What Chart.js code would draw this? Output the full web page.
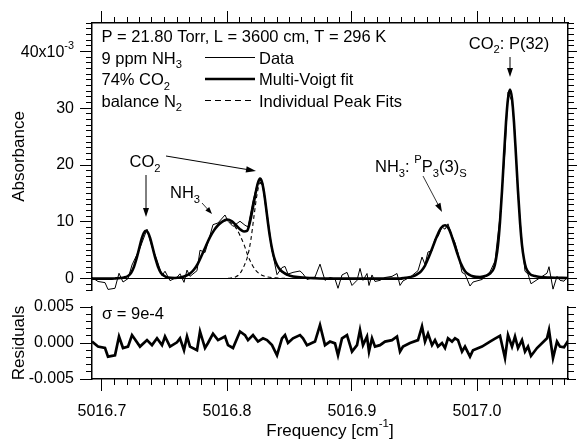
<!DOCTYPE html>
<html><head><meta charset="utf-8">
<script src="https://cdn.jsdelivr.net/npm/chart.js@4"></script>
<style>
html,body{margin:0;padding:0;background:#fff;}
#wrap{position:relative;width:578px;height:441px;overflow:hidden;background:#fff;}
#c1{position:absolute;left:0;top:0;}
#c2{position:absolute;left:0;top:298px;}
</style></head><body>
<div id="wrap">
<canvas id="c1" width="578" height="292"></canvas>
<canvas id="c2" width="578" height="143"></canvas>
</div>
<script>
// ---------- data (absorbance in units of 1e-3, residuals in absorbance) ----------
const freqData = [
5016.6920,5016.6968,5016.7024,5016.7048,5016.7104,5016.7136,5016.7168,5016.7208,5016.7240,5016.7304,
5016.7360,5016.7400,5016.7440,5016.7480,5016.7504,5016.7544,5016.7600,5016.7624,5016.7656,5016.7680,
5016.7704,5016.7760,5016.7784,5016.7824,5016.7848,5016.7888,5016.7928,5016.7984,5016.8008,5016.8048,
5016.8104,5016.8144,5016.8168,5016.8208,5016.8248,5016.8288,5016.8320,5016.8360,5016.8400,5016.8440,
5016.8464,5016.8488,5016.8528,5016.8584,5016.8608,5016.8640,5016.8704,5016.8744,5016.8784,5016.8824,
5016.8864,5016.8888,5016.8920,5016.8960,5016.9000,5016.9040,5016.9064,5016.9088,5016.9120,5016.9136,
5016.9160,5016.9184,5016.9224,5016.9264,5016.9320,5016.9360,5016.9384,5016.9408,5016.9464,5016.9528,
5016.9560,5016.9584,5016.9608,5016.9640,5016.9664,5016.9688,5016.9720,5016.9744,5016.9768,5016.9800,
5016.9824,5016.9848,5016.9880,5016.9904,5016.9944,5016.9968,5017.0040,5017.0104,5017.0144,5017.0184,
5017.0224,5017.0248,5017.0280,5017.0304,5017.0328,5017.0360,5017.0384,5017.0408,5017.0432,5017.0480,
5017.0560,5017.0576,5017.0608,5017.0640,5017.0664,5017.0696,5017.0728];
const absData = [
0.2,-0.5,-0.7,-1.9,-1.7,0.95,-0.6,0.0,2.4,5.4,
8.7,5.6,3.25,0.55,1.3,-0.35,0.25,0.85,-0.65,1.5,
0.4,1.4,5.0,4.6,6.4,9.5,9.8,11.2,10.1,9.2,
10.1,9.4,9.1,13.7,17.1,16.75,11.6,5.0,0.7,1.95,
2.15,0.8,1.1,1.35,0.85,-0.15,0.28,2.55,-0.3,0.2,
-0.05,-1.7,0.65,1.1,-1.2,-0.3,1.8,-0.3,0.9,-1.2,
0.65,-0.5,-0.3,0.2,0.4,0.9,-1.2,-0.4,0.25,1.4,
3.8,2.5,4.7,4.9,7.0,7.4,9.1,8.7,9.65,7.5,
6.35,4.5,1.1,0.8,-1.3,-0.6,-0.15,1.2,3.1,11.0,
22.5,32.8,31.2,25.5,14.7,6.3,1.3,0.8,-0.9,-0.2,
0.95,2.1,-1.85,0.4,-0.3,-0.45,0.45];
const residuals = [
0.0002,-0.0005,-0.0007,-0.0019,-0.0017,0.0009,-0.0007,-0.0005,0.0011,-0.0005,
0.0004,-0.0003,0.00065,-0.0003,0.0009,-0.0005,0.0001,0.00065,-0.001,0.0009,
-0.0005,-0.001,0.0016,-0.0007,0.0,0.0013,0.0004,0.0009,-0.0003,-0.0007,
0.0016,0.0011,0.0004,0.0011,0.0002,0.00065,0.0004,-0.0003,-0.0017,0.00065,
0.0011,0.0,0.00065,0.0011,0.00065,-0.0003,0.0002,0.0025,-0.0003,0.0002,
-0.00005,-0.0017,0.00065,0.0011,-0.0012,-0.0003,0.0018,-0.0003,0.0009,-0.0012,
0.00065,-0.0005,-0.0003,0.0002,0.0004,0.0009,-0.0012,-0.0005,0.0,0.0004,
0.0023,0.0002,0.0013,-0.0003,0.0004,-0.0005,0.0,-0.0007,0.00065,0.0002,
0.00065,0.0004,-0.0012,-0.0005,-0.0019,-0.001,-0.0005,0.0002,0.0006,0.001,
-0.0021,0.0011,-0.0005,0.0009,-0.0007,0.0004,-0.0012,-0.0005,-0.0018,-0.0007,
0.00065,0.0018,-0.0021,0.0002,-0.0005,-0.0006,0.0003];
const fitFreq = [
5016.6920,5016.7064,5016.7112,5016.7144,5016.7176,5016.7208,5016.7232,5016.7256,5016.7272,5016.7288,
5016.7304,5016.7320,5016.7336,5016.7352,5016.7368,5016.7384,5016.7400,5016.7416,5016.7432,5016.7448,
5016.7472,5016.7496,5016.7528,5016.7584,5016.7624,5016.7672,5016.7704,5016.7736,5016.7768,5016.7800,
5016.7832,5016.7864,5016.7896,5016.7928,5016.7960,5016.8000,5016.8040,5016.8072,5016.8104,5016.8136,
5016.8160,5016.8184,5016.8208,5016.8232,5016.8248,5016.8264,5016.8280,5016.8296,5016.8312,5016.8328,
5016.8344,5016.8360,5016.8376,5016.8400,5016.8424,5016.8456,5016.8504,5016.8584,5016.8704,5016.8824,
5016.9384,5016.9424,5016.9488,5016.9520,5016.9552,5016.9584,5016.9616,5016.9648,5016.9680,5016.9712,
5016.9744,5016.9776,5016.9808,5016.9840,5016.9872,5016.9904,5016.9936,5016.9968,5017.0024,5017.0072,
5017.0104,5017.0136,5017.0152,5017.0168,5017.0184,5017.0200,5017.0216,5017.0232,5017.0248,5017.0264,
5017.0280,5017.0296,5017.0312,5017.0328,5017.0344,5017.0360,5017.0376,5017.0392,5017.0424,5017.0464,
5017.0504,5017.0584,5017.0728];
const fitAbs = [
0,0,0.05,0.1,0.2,0.47,1.0,2.1,3.2,4.5,
5.9,7.2,8.1,8.4,8.1,7.2,5.9,4.5,3.2,2.1,
1.0,0.5,0.2,0.12,0.2,0.5,0.9,1.6,2.7,4.2,
5.8,7.3,8.5,9.4,10.0,10.4,10.1,9.4,8.7,8.3,
8.4,10.0,12.6,15.4,16.9,17.6,17.0,15.2,12.6,9.8,
7.3,5.3,3.8,2.4,1.6,1.0,0.5,0.25,0.08,0,
0,0.15,0.4,0.75,1.3,2.3,3.9,5.7,7.5,8.9,
9.4,8.7,6.8,4.6,2.6,1.3,0.7,0.4,0.3,0.5,
0.9,1.9,3.4,5.9,10.0,15.4,21.6,27.5,31.7,33.3,
31.7,27.5,21.6,15.4,10.0,5.9,3.4,1.9,0.8,0.45,
0.3,0.2,0.12];
const peakBFreq = [5016.7592,5016.7624,5016.7672,5016.7704,5016.7736,5016.7768,5016.7800,5016.7832,5016.7864,5016.7896,
5016.7928,5016.7960,5016.8000,5016.8040,5016.8072,5016.8104,5016.8136,5016.8168,5016.8200,5016.8232,
5016.8264,5016.8296,5016.8328,5016.8384,5016.8464];
const peakBAbs = [0.1,0.2,0.5,0.9,1.6,2.7,4.2,5.8,7.3,8.5,
9.4,10.0,10.2,9.7,8.9,7.6,6.0,4.0,2.5,1.4,
0.8,0.45,0.28,0.15,0.05];
const peakCFreq = [5016.8008,5016.8040,5016.8072,5016.8104,5016.8136,5016.8168,5016.8192,5016.8216,5016.8240,5016.8264,
5016.8288,5016.8312,5016.8328,5016.8344,5016.8360,5016.8376,5016.8400,5016.8424,5016.8456,5016.8504,
5016.8584,5016.8704];
const peakCAbs = [0.05,0.15,0.35,0.9,2.2,4.2,7.0,11.0,14.8,16.8,
15.9,12.2,9.5,7.0,5.0,3.6,2.3,1.5,0.9,0.45,
0.2,0.05];

// ---------- ticks ----------
const freqMajor = [5016.7,5016.8,5016.9,5017.0];
const freqMinor = [5016.70,5016.71,5016.72,5016.73,5016.74,5016.75,5016.76,5016.77,5016.78,5016.79,
5016.80,5016.81,5016.82,5016.83,5016.84,5016.85,5016.86,5016.87,5016.88,5016.89,
5016.90,5016.91,5016.92,5016.93,5016.94,5016.95,5016.96,5016.97,5016.98,5016.99,
5017.00,5017.01,5017.02,5017.03,5017.04,5017.05,5017.06,5017.07];
const absMajor = [0,10,20,30,40];
const absMinor = [-2,-1,0,1,2,3,4,5,6,7,8,9,10,11,12,13,14,15,16,17,18,19,20,21,22,23,24,25,26,27,28,29,30,31,32,33,34,35,36,37,38,39,40,41,42,43,44,45];
const resMajor = [-0.005,0,0.005];
const resMinor = [-0.005,-0.004,-0.003,-0.002,-0.001,0,0.001,0.002,0.003,0.004,0.005];

const X_MIN = 5016.692, X_MAX = 5017.0728;
const FONT = "'Liberation Sans', Arial, Helvetica, sans-serif";
Chart.defaults.font.family = FONT;
Chart.defaults.color = '#000';

const xy = (xs, ys) => xs.map((x, i) => ({x, y: ys[i]}));

function mkAxis(axis, position, min, max, tickVals, tickLen, size, weight, opts) {
  const horiz = axis === 'x';
  return Object.assign({
    type: 'linear', axis, position, min, max, weight, offset: false,
    afterBuildTicks: s => { s.ticks = tickVals.map(v => ({value: v})); },
    afterFit: s => {
      if (horiz) s.height = size; else s.width = size;
      s.paddingTop = 0; s.paddingBottom = 0; s.paddingLeft = 0; s.paddingRight = 0;
    },
    ticks: {display: false},
    grid: {drawOnChartArea: false, drawTicks: true, tickLength: tickLen, color: '#000', tickColor: '#000', tickWidth: 1},
    border: {display: false}
  }, opts || {});
}
const BORDER = {display: true, color: '#000', width: 1.5};

function rich(ctx, x, y, parts, size, align) {
  const small = size * 0.68;
  const widths = parts.map(p => { ctx.font = (p[1] ? small : size) + 'px ' + FONT; return ctx.measureText(p[0]).width; });
  const total = widths.reduce((a, b) => a + b, 0);
  let cx = align === 'right' ? x - total : align === 'center' ? x - total / 2 : x;
  ctx.textAlign = 'left'; ctx.textBaseline = 'alphabetic';
  parts.forEach((p, i) => {
    ctx.font = (p[1] ? small : size) + 'px ' + FONT;
    const dy = p[1] === 'sub' ? size * 0.28 : p[1] === 'sup' ? -size * 0.52 : 0;
    ctx.fillText(p[0], cx, y + dy);
    cx += widths[i];
  });
}
function arrow(ctx, x1, y1, x2, y2, lw, hl, hw) {
  const a = Math.atan2(y2 - y1, x2 - x1), c = Math.cos(a), s = Math.sin(a);
  ctx.lineWidth = lw;
  ctx.beginPath(); ctx.moveTo(x1, y1); ctx.lineTo(x2 - c * hl * 0.7, y2 - s * hl * 0.7); ctx.stroke();
  ctx.beginPath(); ctx.moveTo(x2, y2);
  ctx.lineTo(x2 - hl * c + hw * s, y2 - hl * s - hw * c);
  ctx.lineTo(x2 - hl * c - hw * s, y2 - hl * s + hw * c);
  ctx.closePath(); ctx.fill();
}

const TS = 16.5; // annotation font size
const annot1 = {
  id: 'annot1',
  afterDraw(chart) {
    const ctx = chart.ctx;
    ctx.save();
    ctx.fillStyle = '#000'; ctx.strokeStyle = '#000';
    const y40 = chart.scales.y.getPixelForValue(40);
    rich(ctx, 74, y40 + 5.7, [['40x10'], ['-3', 'sup']], 16, 'right');
    rich(ctx, 101.5, 42, [['P = 21.80 Torr, L = 3600 cm, T = 296 K']], TS, 'left');
    rich(ctx, 101.5, 63.5, [['9 ppm NH'], ['3', 'sub']], TS, 'left');
    rich(ctx, 101.5, 85, [['74% CO'], ['2', 'sub']], TS, 'left');
    rich(ctx, 101.5, 106.5, [['balance N'], ['2', 'sub']], TS, 'left');
    // legend
    ctx.lineWidth = 1; ctx.beginPath(); ctx.moveTo(205, 57.5); ctx.lineTo(255, 57.5); ctx.stroke();
    ctx.lineWidth = 2.6; ctx.beginPath(); ctx.moveTo(205, 79); ctx.lineTo(255, 79); ctx.stroke();
    ctx.lineWidth = 1.1; ctx.setLineDash([6, 4]); ctx.beginPath(); ctx.moveTo(205, 100.5); ctx.lineTo(255, 100.5); ctx.stroke();
    ctx.setLineDash([]);
    rich(ctx, 259, 63.5, [['Data']], TS, 'left');
    rich(ctx, 259, 85, [['Multi-Voigt fit']], TS, 'left');
    rich(ctx, 259, 106.5, [['Individual Peak Fits']], TS, 'left');
    // peak labels
    rich(ctx, 509, 48.5, [['CO'], ['2', 'sub'], [': P(32)']], TS, 'center');
    arrow(ctx, 510, 57, 510, 77, 1, 9, 3);
    rich(ctx, 129.5, 167, [['CO'], ['2', 'sub']], TS, 'left');
    arrow(ctx, 146, 175, 146, 217, 1, 9, 3);
    arrow(ctx, 166, 156, 256, 171, 1, 10, 3.2);
    rich(ctx, 170, 198, [['NH'], ['3', 'sub']], TS, 'left');
    arrow(ctx, 202, 203, 212, 214, 0.8, 7, 2.6);
    rich(ctx, 375, 172, [['NH'], ['3', 'sub'], [': '], ['P', 'sup'], ['P'], ['3', 'sub'], ['(3)'], ['S', 'sub']], TS, 'left');
    arrow(ctx, 423, 176, 442, 212, 0.8, 9, 3);
    ctx.restore();
  }
};
const annot2 = {
  id: 'annot2',
  afterDraw(chart) {
    const ctx = chart.ctx;
    ctx.save();
    ctx.fillStyle = '#000';
    rich(ctx, 102, 21, [['\u03C3 = 9e-4']], TS, 'left');
    const ca = chart.chartArea;
    rich(ctx, (ca.left + ca.right) / 2, 138, [['Frequency [cm'], ['-1', 'sup'], [']']], 17, 'center');
    ctx.restore();
  }
};

new Chart(document.getElementById('c1'), {
  type: 'line',
  data: {datasets: [
    {label: 'Multi-Voigt fit', data: xy(fitFreq, fitAbs), xAxisID: 'x', yAxisID: 'y', borderColor: '#000', borderWidth: 2.6, pointRadius: 0, cubicInterpolationMode: 'monotone', order: 0},
    {label: 'Individual Peak Fits', data: xy(peakBFreq, peakBAbs), xAxisID: 'x', yAxisID: 'y', borderColor: '#000', borderWidth: 1.1, borderDash: [4, 3], pointRadius: 0, cubicInterpolationMode: 'monotone', order: 1},
    {label: 'Individual Peak Fits 2', data: xy(peakCFreq, peakCAbs), xAxisID: 'x', yAxisID: 'y', borderColor: '#000', borderWidth: 1.1, borderDash: [4, 3], pointRadius: 0, cubicInterpolationMode: 'monotone', order: 1},
    {label: 'Data', data: xy(freqData, absData), xAxisID: 'x', yAxisID: 'y', borderColor: '#000', borderWidth: 1, pointRadius: 0, tension: 0, order: 2}
  ]},
  options: {
    responsive: false, animation: false, events: [],
    layout: {padding: {left: 0, right: 0, top: 0, bottom: 2}},
    plugins: {legend: {display: false}, tooltip: {enabled: false}},
    scales: {
      x: mkAxis('x', 'top', X_MIN, X_MAX, freqMajor, 12, 23, 1, {border: BORDER}),
      xMinor: mkAxis('x', 'top', X_MIN, X_MAX, freqMinor, 6, 0, 0),
      y: mkAxis('y', 'left', -2, 45, absMajor, 12, 92, 1, {
        ticks: {display: true, padding: 6, color: '#000', font: {size: 16, family: FONT}, callback: v => v === 40 ? '' : String(v)},
        grid: {drawOnChartArea: true, drawTicks: true, tickLength: 12, color: c => (c.tick && c.tick.value === 0) ? '#000' : 'rgba(0,0,0,0)', tickColor: '#000', lineWidth: 1, tickWidth: 1},
        border: BORDER,
        title: {display: true, text: 'Absorbance', color: '#000', font: {size: 17, family: FONT}, padding: {top: 9, bottom: 0}}
      }),
      yMinor: mkAxis('y', 'left', -2, 45, absMinor, 6, 0, 0),
      yR: mkAxis('y', 'right', -2, 45, absMajor, 9, 10, 1, {border: BORDER}),
      yRMinor: mkAxis('y', 'right', -2, 45, absMinor, 6, 0, 0)
    }
  },
  plugins: [annot1]
});

new Chart(document.getElementById('c2'), {
  type: 'line',
  data: {datasets: [
    {label: 'Residuals', data: xy(freqData, residuals), xAxisID: 'x', yAxisID: 'y', borderColor: '#000', borderWidth: 2.7, pointRadius: 0, tension: 0}
  ]},
  options: {
    responsive: false, animation: false, events: [],
    layout: {padding: {left: 0, right: 0, top: 9, bottom: 0}},
    plugins: {legend: {display: false}, tooltip: {enabled: false}},
    scales: {
      x: mkAxis('x', 'bottom', X_MIN, X_MAX, freqMajor, 12, 62, 1, {
        ticks: {display: true, padding: 11, autoSkip: false, maxRotation: 0, color: '#000', font: {size: 16, family: FONT}, callback: v => v.toFixed(1)},
        border: BORDER
      }),
      xMinor: mkAxis('x', 'bottom', X_MIN, X_MAX, freqMinor, 6, 0, 0),
      y: mkAxis('y', 'left', -0.005, 0.005, resMajor, 12, 92, 1, {
        ticks: {display: true, padding: 6, color: '#000', font: {size: 16, family: FONT}, callback: v => v.toFixed(3)},
        border: BORDER,
        title: {display: true, text: 'Residuals', color: '#000', font: {size: 17, family: FONT}, padding: {top: 9, bottom: 0}}
      }),
      yMinor: mkAxis('y', 'left', -0.005, 0.005, resMinor, 6, 0, 0),
      yR: mkAxis('y', 'right', -0.005, 0.005, resMajor, 8, 10, 1, {border: BORDER}),
      yRMinor: mkAxis('y', 'right', -0.005, 0.005, resMinor, 6, 0, 0)
    }
  },
  plugins: [annot2]
});
</script>
</body></html>
